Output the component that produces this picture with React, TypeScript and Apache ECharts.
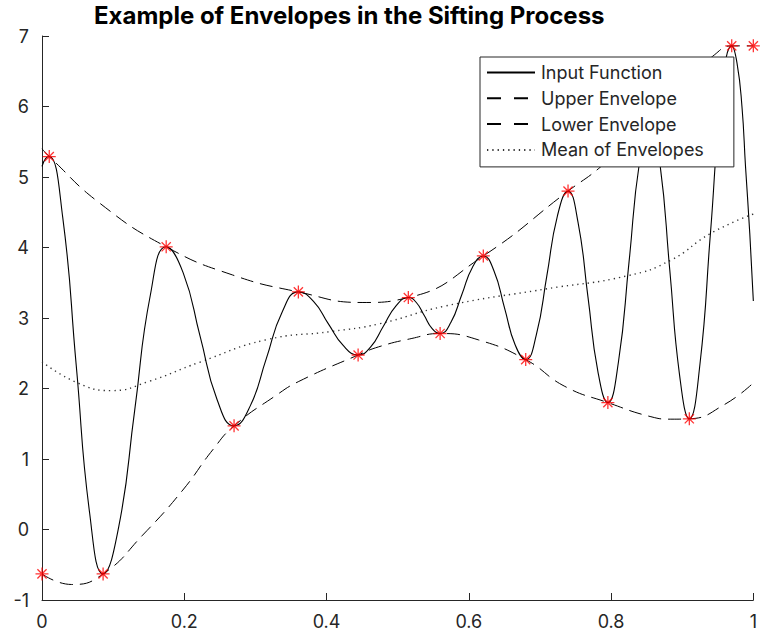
import React, { useEffect, useRef } from "react";
import * as echarts from "echarts";

// Input signal: extrema and intermediate samples along each swing
const inputFunction: [number, number][] = [
  [0, 5.15], [0.005, 5.26], [0.0102, 5.29],
  [0.0291, 4.43], [0.0481, 2.33], [0.067, 0.23], [0.0859, -0.63],
  [0.1081, 0.05], [0.1303, 1.69], [0.1524, 3.33], [0.1746, 4.01],
  [0.1985, 3.64], [0.2223, 2.74], [0.2462, 1.84], [0.27, 1.47],
  [0.2926, 1.75], [0.3152, 2.42], [0.3378, 3.09], [0.3604, 3.37],
  [0.3814, 3.24], [0.4024, 2.92], [0.4234, 2.61], [0.4444, 2.475],
  [0.4621, 2.59], [0.4797, 2.88], [0.4974, 3.17], [0.515, 3.29],
  [0.5262, 3.22], [0.5374, 3.035], [0.5485, 2.85], [0.5597, 2.78],
  [0.5749, 2.94], [0.5901, 3.33], [0.6052, 3.72], [0.6204, 3.88],
  [0.6353, 3.67], [0.6502, 3.145], [0.6651, 2.62], [0.68, 2.41],
  [0.6949, 2.76], [0.7098, 3.605], [0.7246, 4.45], [0.7395, 4.8],
  [0.7535, 4.36], [0.7675, 3.3], [0.7815, 2.24], [0.7955, 1.8],
  [0.8104, 2.38], [0.8253, 3.8], [0.8401, 5.22], [0.855, 5.8],
  [0.8688, 5.18], [0.8825, 3.685], [0.8963, 2.19], [0.91, 1.57],
  [0.9249, 2.34], [0.9398, 4.215], [0.9547, 6.09], [0.9696, 6.86],
  [0.977, 6.62], [0.984, 6.0], [0.989, 5.15], [0.995, 4.2], [1.0, 3.24],
];

// Spline through the maxima
const upperEnvelope: [number, number][] = [
  [0, 5.4], [0.0102, 5.29], [0.081, 4.63], [0.1746, 4.01], [0.268, 3.61],
  [0.3604, 3.37], [0.45, 3.22], [0.515, 3.29], [0.6204, 3.88], [0.7395, 4.8],
  [0.786, 5.15], [0.855, 5.8], [0.92, 6.47], [0.945, 6.73], [0.9696, 6.86],
  [1.0, 6.86],
];

// Spline through the minima
const lowerEnvelope: [number, number][] = [
  [0, -0.63], [0.0416, -0.78], [0.0859, -0.63], [0.1415, -0.08], [0.198, 0.56],
  [0.24, 1.13], [0.27, 1.47], [0.3287, 1.9], [0.361, 2.1], [0.4444, 2.475],
  [0.473, 2.59], [0.52, 2.71], [0.5597, 2.78], [0.6134, 2.69], [0.68, 2.41],
  [0.735, 2.03], [0.7955, 1.8], [0.856, 1.6], [0.884, 1.565], [0.91, 1.57],
  [0.959, 1.77], [1.0, 2.08],
];

// Average of the two envelopes
const meanEnvelope: [number, number][] = [
  [0, 2.38], [0.05, 2.08], [0.0976, 1.97], [0.15, 2.1], [0.221, 2.37],
  [0.3147, 2.69], [0.408, 2.81], [0.473, 2.915], [0.567, 3.17], [0.707, 3.41],
  [0.8235, 3.6], [0.884, 3.82], [0.94, 4.2], [1.0, 4.475],
];

// Detected extrema (including the padded end points)
const extrema: [number, number][] = [
  [0, -0.63], [0.0102, 5.29], [0.0859, -0.63], [0.1746, 4.01], [0.27, 1.47],
  [0.3604, 3.37], [0.4444, 2.475], [0.515, 3.29], [0.5597, 2.78], [0.6204, 3.88],
  [0.68, 2.41], [0.7395, 4.8], [0.7955, 1.8], [0.855, 5.8], [0.91, 1.57],
  [0.9696, 6.86], [1.0, 6.86],
];

const xTicks = [0, 0.2, 0.4, 0.6, 0.8, 1];
const yTicks = [-1, 0, 1, 2, 3, 4, 5, 6, 7];
const seriesNames = ["Input Function", "Upper Envelope", "Lower Envelope", "Mean of Envelopes"];

const FONT = "Inter, 'Liberation Sans', Arial, sans-serif";
const AXIS_COLOR = "#262626";
const ENVELOPE_DASH = [13, 7];
const MEAN_DOTS = [1.3, 4];

// Asterisk marker: plus sign overlaid with a diagonal cross
const STAR_PATH =
  "path://M0,-10L0,10M-10,0L10,0M-7.07,-7.07L7.07,7.07M-7.07,7.07L7.07,-7.07";

export default function App() {
  const ref = useRef<HTMLDivElement>(null);

  useEffect(() => {
    if (!ref.current) return;
    const chart = echarts.init(ref.current, null, { renderer: "svg" });
    const hiddenSymbol = { color: "rgba(0,0,0,0)", borderColor: "rgba(0,0,0,0)", borderWidth: 0 };
    chart.setOption({
      animation: false,
      backgroundColor: "#ffffff",
      title: {
        text: "Example of Envelopes in the Sifting Process",
        left: 94,
        top: 3,
        padding: 0,
        textStyle: { fontFamily: FONT, fontSize: 24, fontWeight: "bold", color: "#000000" },
      },
      grid: { left: 42, right: 4, top: 36, bottom: 36, containLabel: false },
      legend: {
        data: [
          { name: seriesNames[0], itemStyle: hiddenSymbol, lineStyle: { type: "solid" } },
          { name: seriesNames[1], itemStyle: hiddenSymbol, lineStyle: { type: [14, 13] } },
          { name: seriesNames[2], itemStyle: hiddenSymbol, lineStyle: { type: [14, 13] } },
          { name: seriesNames[3], itemStyle: hiddenSymbol, lineStyle: { type: MEAN_DOTS } },
        ],
        orient: "vertical",
        left: 480,
        top: 57,
        z: 10,
        padding: [6.5, 30, 8, 6],
        itemWidth: 48,
        itemHeight: 14,
        itemGap: 7.8,
        backgroundColor: "#ffffff",
        borderColor: AXIS_COLOR,
        borderWidth: 1,
        borderRadius: 0,
        selectedMode: false,
        textStyle: { fontFamily: FONT, fontSize: 18, color: AXIS_COLOR, padding: [0, 0, 0, 1] },
      },
      xAxis: {
        type: "value",
        min: xTicks[0],
        max: xTicks[xTicks.length - 1],
        interval: 0.2,
        splitLine: { show: false },
        axisLine: { show: true, onZero: false, lineStyle: { color: AXIS_COLOR, width: 1 } },
        axisTick: { show: true, inside: true, length: 7, lineStyle: { color: AXIS_COLOR } },
        axisLabel: {
          margin: 12,
          fontFamily: FONT,
          fontSize: 18,
          color: AXIS_COLOR,
          formatter: (v: number) => String(parseFloat(v.toFixed(1))),
        },
      },
      yAxis: {
        type: "value",
        min: yTicks[0],
        max: yTicks[yTicks.length - 1],
        interval: 1,
        splitLine: { show: false },
        axisLine: { show: true, onZero: false, lineStyle: { color: AXIS_COLOR, width: 1 } },
        axisTick: { show: true, inside: true, length: 7, lineStyle: { color: AXIS_COLOR } },
        axisLabel: { margin: 13, fontFamily: FONT, fontSize: 18, color: AXIS_COLOR },
      },
      series: [
        {
          name: seriesNames[0],
          type: "line",
          data: inputFunction,
          smooth: 0.5,
          symbol: "none",
          lineStyle: { color: "#000000", width: 1.1, type: "solid" },
          itemStyle: { color: "#000000" },
          z: 3,
        },
        {
          name: seriesNames[1],
          type: "line",
          data: upperEnvelope,
          smooth: 0.5,
          symbol: "none",
          lineStyle: { color: "#000000", width: 1, type: ENVELOPE_DASH },
          itemStyle: { color: "#000000" },
          z: 2,
        },
        {
          name: seriesNames[2],
          type: "line",
          data: lowerEnvelope,
          smooth: 0.5,
          symbol: "none",
          lineStyle: { color: "#000000", width: 1, type: ENVELOPE_DASH },
          itemStyle: { color: "#000000" },
          z: 2,
        },
        {
          name: seriesNames[3],
          type: "line",
          data: meanEnvelope,
          smooth: 0.5,
          symbol: "none",
          lineStyle: { color: "#333333", width: 1.4, type: MEAN_DOTS },
          itemStyle: { color: "#333333" },
          z: 2,
        },
        {
          name: "Extrema",
          type: "scatter",
          data: extrema,
          symbol: STAR_PATH,
          symbolSize: 13,
          clip: false,
          itemStyle: { color: "rgba(0,0,0,0)", borderColor: "#ff0000", borderWidth: 1.3 },
          z: 4,
        },
      ],
    });
    return () => chart.dispose();
  }, []);

  return (
    <div
      ref={ref}
      style={{ position: "fixed", left: 0, top: 0, width: 760, height: 636, background: "#fff" }}
    />
  );
}
